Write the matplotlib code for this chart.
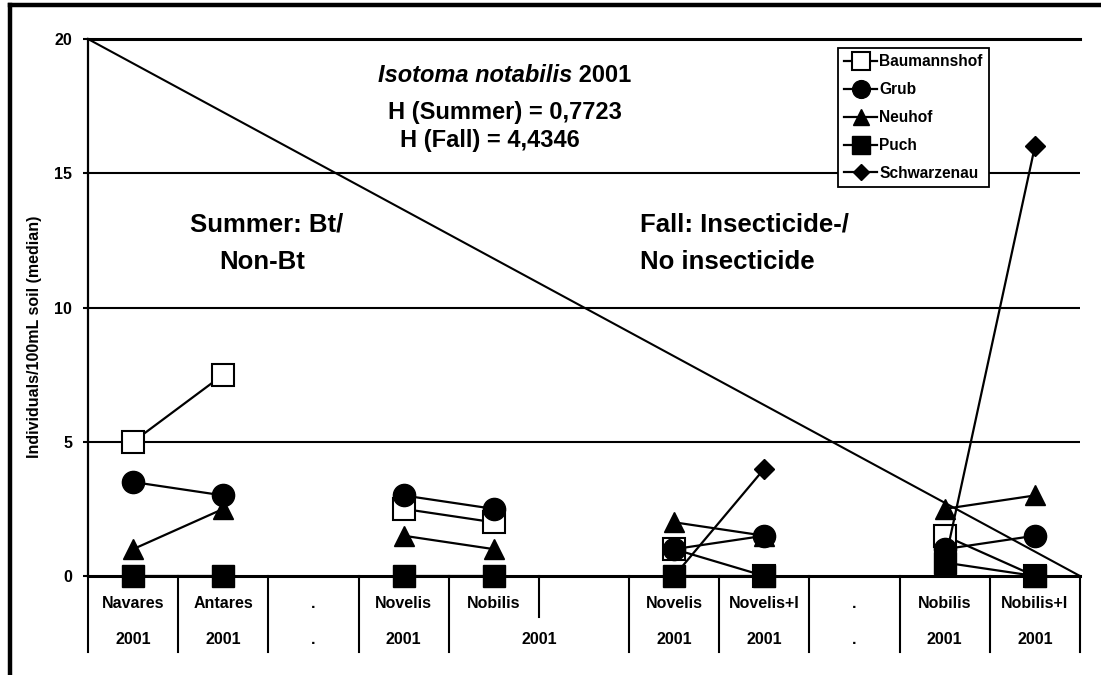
import numpy as np
import matplotlib
matplotlib.use("Agg")
import matplotlib.pyplot as plt
from matplotlib.lines import Line2D

plt.rcParams["font.family"] = ["Liberation Sans", "DejaVu Sans"]
plt.rcParams["font.weight"] = "bold"

nan = np.nan

# Category table (two rows under the axis)
row1 = ["Navares", "Antares", ".", "Novelis", "Nobilis", "",
        "Novelis", "Novelis+I", ".", "Nobilis", "Nobilis+I"]
row2 = ["2001", "2001", ".", "2001", None, None,
        "2001", "2001", ".", "2001", "2001"]
merged_label = "2001"          # spans the Nobilis and the empty column
merged_span = (4, 5)

# Medians per site (NaN breaks the line between treatment pairs)
baumannshof = [5.0, 7.5, nan, 2.5, 2.0, nan, 1.0, 0.0, nan, 1.5, 0.0]
grub        = [3.5, 3.0, nan, 3.0, 2.5, nan, 1.0, 1.5, nan, 1.0, 1.5]
neuhof      = [1.0, 2.5, nan, 1.5, 1.0, nan, 2.0, 1.5, nan, 2.5, 3.0]
puch        = [0.0, 0.0, nan, 0.0, 0.0, nan, 0.0, 0.0, nan, 0.5, 0.0]
schwarzenau = [nan, nan, nan, nan, nan, nan, 0.0, 4.0, nan, 0.5, 16.0]

site_names = ["Baumannshof", "Grub", "Neuhof", "Puch", "Schwarzenau"]
site_values = [baumannshof, grub, neuhof, puch, schwarzenau]
site_styles = [
    dict(marker="s", ms=15.5, mfc="white", mec="black", mew=1.5),
    dict(marker="o", ms=16, mfc="black", mec="black"),
    dict(marker="^", ms=15, mfc="black", mec="black"),
    dict(marker="s", ms=15.5, mfc="black", mec="black"),
    dict(marker="D", ms=10, mfc="black", mec="black"),
]

yticks = [0, 5, 10, 15, 20]

W, H = 1101, 675
fig = plt.figure(figsize=(W / 100, H / 100), dpi=100)
ax = fig.add_axes([88 / W, 1 - 576 / H, (1080 - 88) / W, 537 / H])

n = len(row1)
x = np.arange(n)
ax.set_xlim(-0.5, n - 0.5)
ax.set_ylim(0, 20)

# horizontal grid
for v in yticks[1:-1]:
    ax.axhline(v, color="black", lw=1.5, zorder=1)
ax.axhline(20, color="black", lw=2.2, zorder=1, clip_on=False)

for s in ["top", "right"]:
    ax.spines[s].set_visible(False)
ax.spines["bottom"].set_linewidth(2.2)
ax.spines["left"].set_linewidth(1.6)

ax.set_yticks(yticks)
ax.set_yticklabels([str(v) for v in yticks], fontsize=11.5, fontweight="bold")
ax.tick_params(axis="y", direction="out", length=3.5, width=1.5, pad=8)
ax.set_xticks([])

# diagonal reference line across the plot area
ax.plot([0, 1], [1, 0], transform=ax.transAxes, color="black", lw=1.5,
        zorder=2, clip_on=False)

for name, vals, st in zip(site_names, site_values, site_styles):
    ax.plot(x, vals, color="black", lw=1.6, label=name, zorder=3,
            clip_on=False, **st)

# category table
r1_y, r2_y = -0.0503, -0.119
for b in np.arange(-0.5, n, 1.0):
    bottom = -0.0763 if b == merged_span[0] + 0.5 else -0.1415
    ax.plot([b, b], [0, bottom], transform=ax.get_xaxis_transform(),
            color="black", lw=1.5, clip_on=False)
for i, lab in enumerate(row1):
    ax.text(i, r1_y, lab, transform=ax.get_xaxis_transform(), ha="center",
            va="center", fontsize=11.5, fontweight="bold")
for i, lab in enumerate(row2):
    if lab is not None:
        ax.text(i, r2_y, lab, transform=ax.get_xaxis_transform(), ha="center",
                va="center", fontsize=11.5, fontweight="bold")
ax.text(np.mean(merged_span), r2_y, merged_label,
        transform=ax.get_xaxis_transform(), ha="center", va="center",
        fontsize=11.5, fontweight="bold")

# axis title
fig.text(35 / W, 1 - 337 / H, "Individuals/100mL soil (median)", rotation=90,
         ha="center", va="center", fontsize=11.5, fontweight="bold")

# headline and statistics
t1 = fig.text(378 / W, 1 - 75 / H, "Isotoma notabilis", style="italic",
              fontsize=17, fontweight="bold", va="center", ha="left")
ax.annotate(" 2001", xy=(1, 0), xycoords=t1, va="bottom", ha="left",
            fontsize=17, fontweight="bold")
fig.text(388 / W, 1 - 112 / H, "H (Summer) = 0,7723", fontsize=17,
         fontweight="bold", va="center", ha="left")
fig.text(400 / W, 1 - 140 / H, "H (Fall) = 4,4346", fontsize=17,
         fontweight="bold", va="center", ha="left")

fig.text(267 / W, 1 - 225 / H, "Summer: Bt/", fontsize=18.5, fontweight="bold",
         va="center", ha="center")
fig.text(262 / W, 1 - 262 / H, "Non-Bt", fontsize=18.5, fontweight="bold",
         va="center", ha="center")
fig.text(640 / W, 1 - 225 / H, "Fall: Insecticide-/", fontsize=18.5,
         fontweight="bold", va="center", ha="left")
fig.text(640 / W, 1 - 262 / H, "No insecticide", fontsize=18.5,
         fontweight="bold", va="center", ha="left")

leg = ax.legend(loc="upper left", bbox_to_anchor=(838 / W, 1 - 48 / H),
                bbox_transform=fig.transFigure, borderaxespad=0,
                fancybox=False, framealpha=1, edgecolor="black",
                prop=dict(size=11.2, weight="bold"), handlelength=2.1,
                handletextpad=0.15, labelspacing=0.83, borderpad=0.4,
                markerscale=0.8)
leg.get_frame().set_linewidth(1.3)
leg.set_zorder(5)

# outer frame
fig.add_artist(Line2D([10 / W, 10 / W], [0, 1 - 5 / H], color="black", lw=3.2,
                      transform=fig.transFigure))
fig.add_artist(Line2D([10 / W, 1], [1 - 5 / H, 1 - 5 / H], color="black",
                      lw=3.2, transform=fig.transFigure))

fig.savefig("out.png", dpi=100, facecolor="white")
